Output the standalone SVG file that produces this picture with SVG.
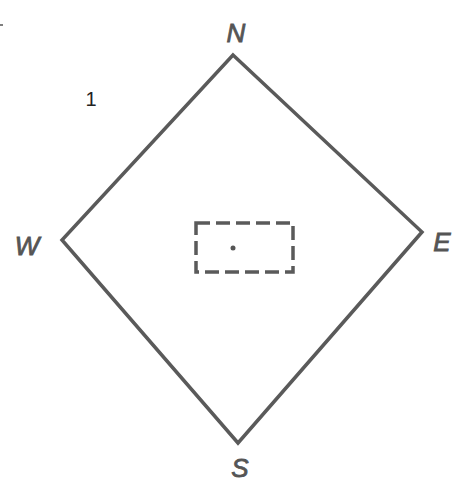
<svg xmlns="http://www.w3.org/2000/svg" width="463" height="487" viewBox="0 0 463 487">
<style>
.edge{fill:none;stroke:#5a5a5a;stroke-width:3.5;stroke-linejoin:miter;stroke-linecap:round}
.lbl{font-family:"Liberation Sans",sans-serif;font-style:italic;font-size:26px;fill:#555;stroke:#555;stroke-width:0.8;text-anchor:middle}
.num{font-family:"Liberation Sans",sans-serif;font-size:20px;fill:#222;text-anchor:middle}
.box{fill:none;stroke:#5a5a5a;stroke-width:3.5;stroke-dasharray:14 6}
</style>
<rect width="463" height="487" fill="#fff"/>
<line x1="0" y1="25" x2="3" y2="25" stroke="#555" stroke-width="1.5"/>
<g id="connectors">
<path class="edge" d="M233 55 L422 232 L238 443 L62 240 Z"/>
</g>
<g id="centre">
<rect class="box" x="196" y="223" width="97" height="49"/>
<circle cx="233" cy="248" r="2.5" fill="#555"/>
</g>
<g id="N"><text class="lbl" x="236" y="42">N</text></g>
<g id="W"><text class="lbl" x="27" y="255">W</text></g>
<g id="E"><text class="lbl" x="442" y="251">E</text></g>
<g id="S"><text class="lbl" x="240" y="477">S</text></g>
<g id="label1"><text class="num" x="91" y="106">1</text></g>
</svg>
